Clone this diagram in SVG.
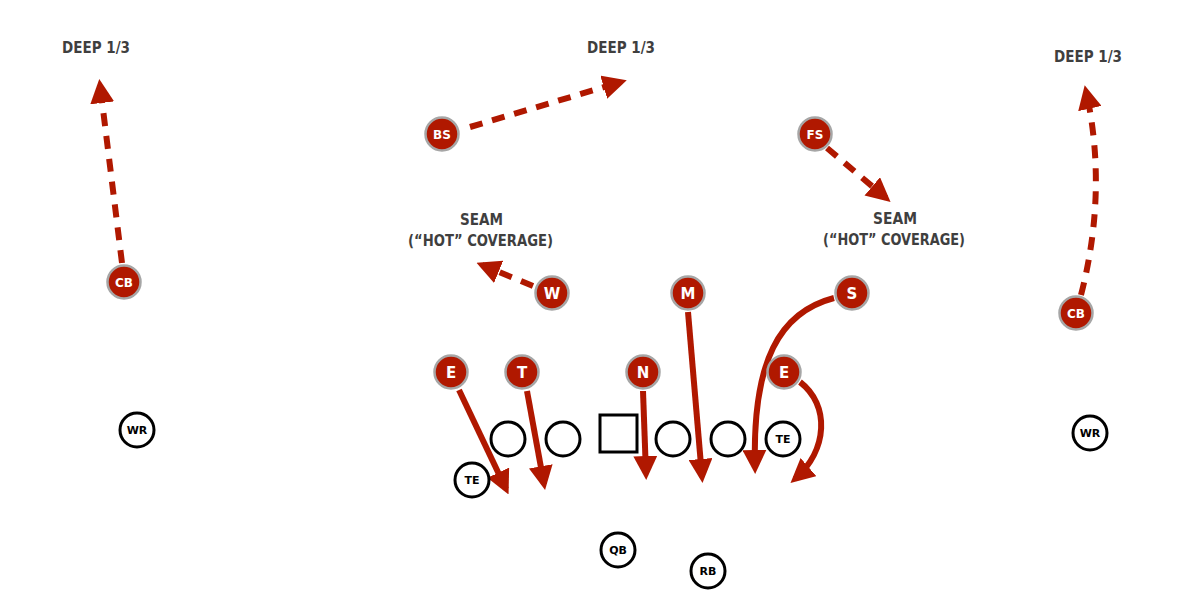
<svg xmlns="http://www.w3.org/2000/svg" width="1200" height="599" viewBox="0 0 1200 599">
<style>
.def circle{fill:#b01800;stroke:#a6a6a6;stroke-width:2.5}
.def text{fill:#fff;font-family:"DejaVu Sans",sans-serif;font-weight:bold;text-anchor:middle}
.off circle,.off rect{fill:#fff;stroke:#000;stroke-width:3}
.off text{fill:#000;font-family:"DejaVu Sans",sans-serif;font-weight:bold;font-size:11px;text-anchor:middle}
.lbl{fill:#3f3f3f;font-family:"DejaVu Sans Condensed","DejaVu Sans",sans-serif;font-weight:bold;font-size:16px;text-anchor:middle}
.route{fill:none;stroke:#b01800;stroke-width:6}
.dash{stroke-dasharray:13 10}
</style>
<defs>
<marker id="ah" markerUnits="userSpaceOnUse" markerWidth="24" markerHeight="24" viewBox="0 0 24 24" refX="18" refY="12" orient="auto">
<path d="M0,0 L24,12 L0,24 z" fill="#b01800"/>
</marker>
</defs>
<rect width="1200" height="599" fill="#fff"/>
<g id="labels">
<text class="lbl" x="96" y="53" textLength="68" lengthAdjust="spacingAndGlyphs">DEEP 1/3</text>
<text class="lbl" x="621" y="53" textLength="68" lengthAdjust="spacingAndGlyphs">DEEP 1/3</text>
<text class="lbl" x="1088" y="62" textLength="68" lengthAdjust="spacingAndGlyphs">DEEP 1/3</text>
<text class="lbl" x="481.5" y="225" textLength="43" lengthAdjust="spacingAndGlyphs">SEAM</text>
<text class="lbl" x="480.5" y="246" textLength="145" lengthAdjust="spacingAndGlyphs">(“HOT” COVERAGE)</text>
<text class="lbl" x="895" y="224" textLength="44" lengthAdjust="spacingAndGlyphs">SEAM</text>
<text class="lbl" x="894" y="245" textLength="142" lengthAdjust="spacingAndGlyphs">(“HOT” COVERAGE)</text>
</g>
<g id="connectors">
<path class="route dash" d="M122,263 L100,85" marker-end="url(#ah)"/>
<path class="route dash" d="M470,127 L621,82" marker-end="url(#ah)"/>
<path class="route dash" d="M827,148 L886,198" marker-end="url(#ah)"/>
<path class="route dash" d="M533,286 L482,265" marker-end="url(#ah)"/>
<path class="route dash" d="M1081,295 Q1108,190 1086,91" marker-end="url(#ah)"/>
<path class="route" d="M459,390 L506,489" marker-end="url(#ah)"/>
<path class="route" d="M527,391 L544,484" marker-end="url(#ah)"/>
<path class="route" d="M643,391 L646,474" marker-end="url(#ah)"/>
<path class="route" d="M688,312 L702,477" marker-end="url(#ah)"/>
<path class="route" d="M834,298 C780,312 752,360 755,468" marker-end="url(#ah)"/>
<path class="route" d="M800,382 C830,405 828,450 795,479" marker-end="url(#ah)"/>
</g>
<g id="offense" class="off">
<g id="wr-left"><circle cx="137" cy="430" r="17"/><text x="137" y="434">WR</text></g>
<g id="wr-right"><circle cx="1090" cy="433" r="17"/><text x="1090" y="437">WR</text></g>
<g id="ol-1"><circle cx="508" cy="439" r="17"/></g>
<g id="ol-2"><circle cx="563" cy="439" r="17"/></g>
<g id="center"><rect x="600" y="415" width="37" height="37"/></g>
<g id="ol-4"><circle cx="673" cy="439" r="17"/></g>
<g id="ol-5"><circle cx="728" cy="439" r="17"/></g>
<g id="te-right"><circle cx="783" cy="439" r="17"/><text x="783" y="443">TE</text></g>
<g id="te-left"><circle cx="472" cy="480" r="17"/><text x="472" y="484">TE</text></g>
<g id="qb"><circle cx="618" cy="550" r="17"/><text x="618" y="554">QB</text></g>
<g id="rb"><circle cx="708" cy="571" r="17"/><text x="708" y="575">RB</text></g>
</g>
<g id="defense" class="def">
<g id="cb-left"><circle cx="124" cy="282" r="16.5"/><text x="124" y="287" font-size="12">CB</text></g>
<g id="bs"><circle cx="442" cy="134" r="16.5"/><text x="442" y="139" font-size="12">BS</text></g>
<g id="fs"><circle cx="815" cy="134" r="16.5"/><text x="815" y="139" font-size="12">FS</text></g>
<g id="w"><circle cx="552" cy="293" r="16.5"/><text x="552" y="299" font-size="15">W</text></g>
<g id="m"><circle cx="688" cy="293" r="16.5"/><text x="688" y="299" font-size="15">M</text></g>
<g id="s"><circle cx="852" cy="293" r="16.5"/><text x="852" y="299" font-size="15">S</text></g>
<g id="e-left"><circle cx="451" cy="372" r="16.5"/><text x="451" y="378" font-size="15">E</text></g>
<g id="t"><circle cx="522" cy="372" r="16.5"/><text x="522" y="378" font-size="15">T</text></g>
<g id="n"><circle cx="643" cy="372" r="16.5"/><text x="643" y="378" font-size="15">N</text></g>
<g id="e-right"><circle cx="784" cy="372" r="16.5"/><text x="784" y="378" font-size="15">E</text></g>
<g id="cb-right"><circle cx="1076" cy="313" r="16.5"/><text x="1076" y="318" font-size="12">CB</text></g>
</g>
</svg>
